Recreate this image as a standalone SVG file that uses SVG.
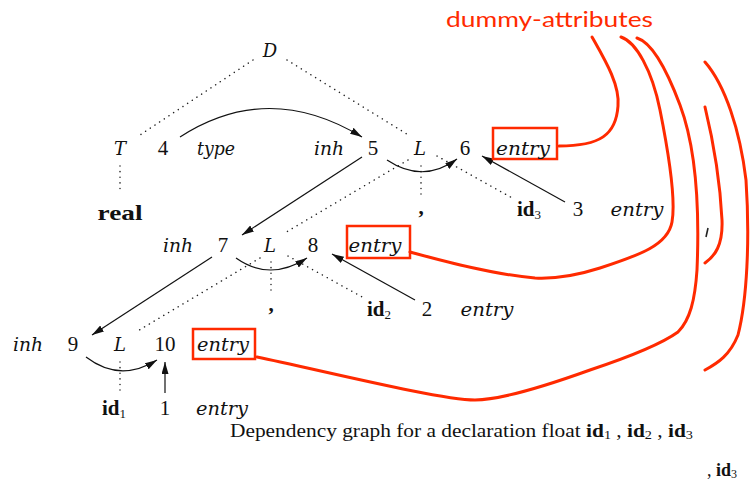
<svg xmlns="http://www.w3.org/2000/svg" width="755" height="480" viewBox="0 0 755 480">
<style>
.m{font-family:"Liberation Serif","Times New Roman",serif;font-size:21px;fill:#111;text-anchor:middle}
.i{font-family:"DejaVu Serif","Liberation Serif",serif;font-style:italic;font-size:18px}
.b{font-weight:bold}
.sub{font-size:13px;font-weight:normal}
.dot{fill:none;stroke:#222;stroke-width:1.5;stroke-dasharray:0.1 5.5;stroke-linecap:round}
.arr{fill:none;stroke:#111;stroke-width:1.2;marker-end:url(#ah)}
.box{fill:none;stroke:#ff2a00;stroke-width:2.5}
.red{fill:none;stroke:#ff2a00;stroke-width:3;stroke-linecap:round}
.cap{font-family:"Liberation Serif","Times New Roman",serif;font-size:18px;fill:#111}
</style>
<defs>
<marker id="ah" markerUnits="userSpaceOnUse" markerWidth="13" markerHeight="7" refX="12" refY="3.5" orient="auto">
<path d="M0,0 L12,3.5 L0,7 z" fill="#111"/>
</marker>
</defs>
<rect width="755" height="480" fill="#fff"/>

<g id="connectors">
<path class="dot" d="M253,60 L140,135"/>
<path class="dot" d="M287,60 L410,136"/>
<path class="dot" d="M120,166 L120,194"/>
<path class="dot" d="M408,160 L283,234"/>
<path class="dot" d="M421,166 L421,198"/>
<path class="dot" d="M437,156 L514,199"/>
<path class="dot" d="M260,258 L136,332"/>
<path class="dot" d="M271,262 L271,294"/>
<path class="dot" d="M288,256 L364,298"/>
<path class="dot" d="M120,362 L120,393"/>
<path class="arr" d="M180,137 Q268,80 362,137"/>
<path class="arr" d="M387,160 Q423,184 457,159"/>
<path class="arr" d="M362,157 L242,235"/>
<path class="arr" d="M565,202 L482,156"/>
<path class="arr" d="M236,258 Q270,282 307,258"/>
<path class="arr" d="M415,300 L332,254"/>
<path class="arr" d="M212,257 L92,335"/>
<path class="arr" d="M86,357 Q120,383 157,360"/>
<path class="arr" d="M165,393 L165,362"/>
<path class="red" d="M592,37 C605,60 620,85 618,106 C616,135 600,146 559,146"/>
<path class="red" d="M621,37 C636,42 652,70 660,110 C668,150 676,200 672,222 C668,245 640,255 600,268 C575,276 555,279 535,278 C490,274 440,260 410,252"/>
<path class="red" d="M637,38 C650,42 665,65 680,105 C695,145 700,200 697,270 C695,300 690,320 678,332 C660,345 620,360 590,370 C540,388 500,400 475,400 C440,400 320,370 257,357"/>
<path class="red" d="M705,62 C725,85 740,130 746,180 C750,240 747,300 738,335 C730,355 718,363 705,370"/>
<path class="red" d="M705,107 C713,140 720,180 722,220 C723,245 715,256 705,263"/>
<path d="M706,237 L708,228" stroke="#222" stroke-width="1.6" fill="none"/>
</g>

<g id="title"><text x="446" y="27" textLength="207" lengthAdjust="spacingAndGlyphs" style="font-family:Lato,'Open Sans',sans-serif;font-size:22px;fill:#ff2a00">dummy-attributes</text></g>

<g id="D"><text class="m i" x="270" y="57">D</text></g>
<g id="T"><text class="m i" x="120" y="155">T</text></g>
<g id="n4"><text class="m" x="163" y="155">4</text></g>
<g id="type"><text class="m i" x="216" y="155" textLength="38" lengthAdjust="spacingAndGlyphs">type</text></g>
<g id="inh5"><text class="m i" x="329" y="155" textLength="30" lengthAdjust="spacingAndGlyphs">inh</text></g>
<g id="n5"><text class="m" x="373" y="155">5</text></g>
<g id="L1"><text class="m i" x="420" y="155">L</text></g>
<g id="n6"><text class="m" x="465" y="155">6</text></g>
<g id="entry6"><rect class="box" x="493" y="128" width="64" height="31"/><text class="m i" x="523" y="155" textLength="54" lengthAdjust="spacingAndGlyphs">entry</text></g>
<g id="real"><text class="m b" x="120" y="220" textLength="45" lengthAdjust="spacingAndGlyphs">real</text></g>
<g id="comma1"><text class="m b" x="421" y="214">,</text></g>
<g id="id3"><text class="m b" x="517" y="216" style="text-anchor:start">id<tspan class="sub" dy="3">3</tspan></text></g>
<g id="n3"><text class="m" x="578" y="216">3</text></g>
<g id="entry3"><text class="m i" x="637" y="216" textLength="53" lengthAdjust="spacingAndGlyphs">entry</text></g>

<g id="inh7"><text class="m i" x="178" y="252" textLength="30" lengthAdjust="spacingAndGlyphs">inh</text></g>
<g id="n7"><text class="m" x="223" y="252">7</text></g>
<g id="L2"><text class="m i" x="270" y="252">L</text></g>
<g id="n8"><text class="m" x="313" y="252">8</text></g>
<g id="entry8"><rect class="box" x="347" y="226" width="63" height="32"/><text class="m i" x="375" y="252" textLength="53" lengthAdjust="spacingAndGlyphs">entry</text></g>
<g id="comma2"><text class="m b" x="271" y="311">,</text></g>
<g id="id2"><text class="m b" x="367" y="316" style="text-anchor:start">id<tspan class="sub" dy="3">2</tspan></text></g>
<g id="n2"><text class="m" x="427" y="316">2</text></g>
<g id="entry2"><text class="m i" x="487" y="316" textLength="53" lengthAdjust="spacingAndGlyphs">entry</text></g>

<g id="inh9"><text class="m i" x="28" y="351" textLength="30" lengthAdjust="spacingAndGlyphs">inh</text></g>
<g id="n9"><text class="m" x="73" y="351">9</text></g>
<g id="L3"><text class="m i" x="120" y="351">L</text></g>
<g id="n10"><text class="m" x="165" y="351">10</text></g>
<g id="entry10"><rect class="box" x="193" y="329" width="62" height="30"/><text class="m i" x="223" y="351" textLength="52" lengthAdjust="spacingAndGlyphs">entry</text></g>
<g id="id1"><text class="m b" x="102" y="415" style="text-anchor:start">id<tspan class="sub" dy="3">1</tspan></text></g>
<g id="n1"><text class="m" x="165" y="415">1</text></g>
<g id="entry1"><text class="m i" x="222" y="415" textLength="52" lengthAdjust="spacingAndGlyphs">entry</text></g>

<g id="caption"><text class="cap" x="230" y="437" textLength="463" lengthAdjust="spacingAndGlyphs">Dependency graph for a declaration float <tspan font-weight="bold">id</tspan><tspan font-size="12" dy="2">1</tspan><tspan dy="-2"> , </tspan><tspan font-weight="bold">id</tspan><tspan font-size="12" dy="2">2</tspan><tspan dy="-2"> , </tspan><tspan font-weight="bold">id</tspan><tspan font-size="12" dy="2">3</tspan></text></g>
<g id="caption2"><text class="cap" x="707" y="476">, <tspan font-weight="bold">id</tspan><tspan font-size="12" dy="2">3</tspan></text></g>
</svg>
